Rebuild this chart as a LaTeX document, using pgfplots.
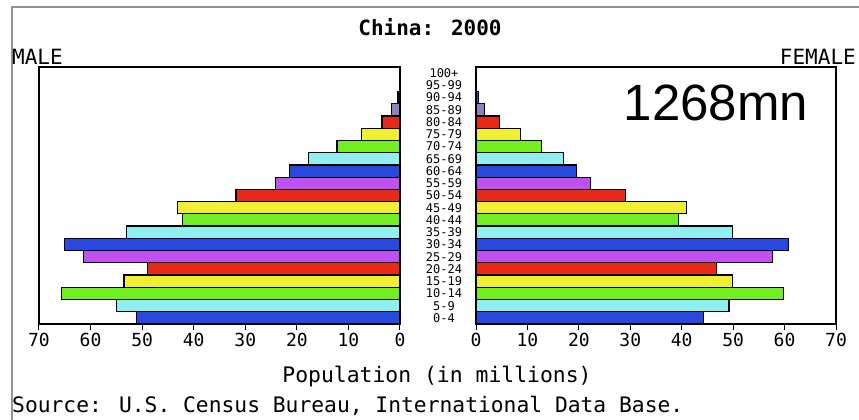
\documentclass[border=0pt]{standalone}
\usepackage{pgfplots}
\pgfplotsset{compat=1.18}
\usepackage{fontspec}
\setmainfont{DejaVu Sans Mono}
\newfontfamily\arialfont{Liberation Sans}

\definecolor{pblue}{HTML}{2848E0}
\definecolor{pcyan}{HTML}{90F0F0}
\definecolor{pgreen}{HTML}{70F020}
\definecolor{pyellow}{HTML}{F0F030}
\definecolor{pred}{HTML}{E82818}
\definecolor{pmagenta}{HTML}{C050F0}
\definecolor{plavender}{HTML}{9080C0}

\pgfplotsset{
  pyramid/.style={
    scale only axis,
    height=257bp,
    xbar,
    bar width=12.24bp,
    xmin=0, xmax=70,
    ymin=-0.5, ymax=20.5,
    xtick={0,10,...,70},
    xtick pos=bottom,
    tick align=outside,
    major tick length=6bp,
    axis line style={line width=1.3bp},
    every tick/.style={black, line width=1bp},
    /pgf/number format/assume math mode=true,
    ticklabel style={font=\fontsize{18bp}{18bp}\selectfont},
    every axis plot/.append style={draw=black, line width=1.2bp, bar shift=0pt},
  },
}

\begin{document}
\begin{tikzpicture}
\path[use as bounding box] (0,0) rectangle (859bp,420bp);
\draw[gray!85, line width=2bp] (12bp,0) -- (12bp,413bp) -- (859bp,413bp);

% male
\begin{axis}[pyramid,
    at={(39bp,96bp)}, anchor=south west,
    width=361bp,
    x dir=reverse,
    ytick={0,...,20},
    yticklabels={0-4,5-9,10-14,15-19,20-24,25-29,30-34,35-39,40-44,45-49,50-54,55-59,60-64,65-69,70-74,75-79,80-84,85-89,90-94,95-99,100+},
    yticklabel pos=right,
    ytick style={draw=none},
    yticklabel style={anchor=center, xshift=38bp, inner sep=0pt, font=\fontsize{12bp}{12bp}\selectfont},
  ]
  \addplot[fill=pblue]     coordinates {(51.1,0) (65.0,6) (21.5,12) (0.4,18)};
  \addplot[fill=pcyan]     coordinates {(55.0,1) (53.0,7) (17.8,13) (0.1,19)};
  \addplot[fill=pgreen]    coordinates {(65.7,2) (42.2,8) (12.2,14) (0.02,20)};
  \addplot[fill=pyellow]   coordinates {(53.5,3) (43.1,9) (7.4,15)};
  \addplot[fill=pred]      coordinates {(49.0,4) (31.8,10) (3.5,16)};
  \addplot[fill=pmagenta]  coordinates {(61.4,5) (24.1,11)};
  \addplot[fill=plavender] coordinates {(1.6,17)};
\end{axis}

% female
\begin{axis}[pyramid,
    at={(476bp,96bp)}, anchor=south west,
    width=360bp,
    ytick=\empty,
  ]
  \addplot[fill=pblue]     coordinates {(44.2,0) (60.7,6) (19.6,12) (0.5,18)};
  \addplot[fill=pcyan]     coordinates {(49.2,1) (49.8,7) (17.0,13) (0.1,19)};
  \addplot[fill=pgreen]    coordinates {(59.8,2) (39.3,8) (12.7,14) (0.02,20)};
  \addplot[fill=pyellow]   coordinates {(49.8,3) (40.9,9) (8.6,15)};
  \addplot[fill=pred]      coordinates {(46.8,4) (29.1,10) (4.5,16)};
  \addplot[fill=pmagenta]  coordinates {(57.7,5) (22.2,11)};
  \addplot[fill=plavender] coordinates {(1.6,17)};
\end{axis}

\node[font=\bfseries\fontsize{21bp}{21bp}\selectfont] at (430bp,393bp) {China: 2000};
\node[anchor=west, inner sep=0pt, font=\fontsize{21bp}{21bp}\selectfont] at (12bp,363bp) {MALE};
\node[anchor=east, inner sep=0pt, font=\fontsize{21bp}{21bp}\selectfont] at (856bp,363bp) {FEMALE};
\node[font=\arialfont\fontsize{51bp}{51bp}\selectfont] at (716bp,317bp) {1268mn};
\node[font=\fontsize{21.4bp}{21.4bp}\selectfont] at (437bp,43bp) {Population (in millions)};
\node[anchor=west, inner sep=0pt, font=\fontsize{21.3bp}{21.3bp}\selectfont] at (12bp,14bp) {Source: U.S. Census Bureau, International Data Base.};
\end{tikzpicture}
\end{document}
